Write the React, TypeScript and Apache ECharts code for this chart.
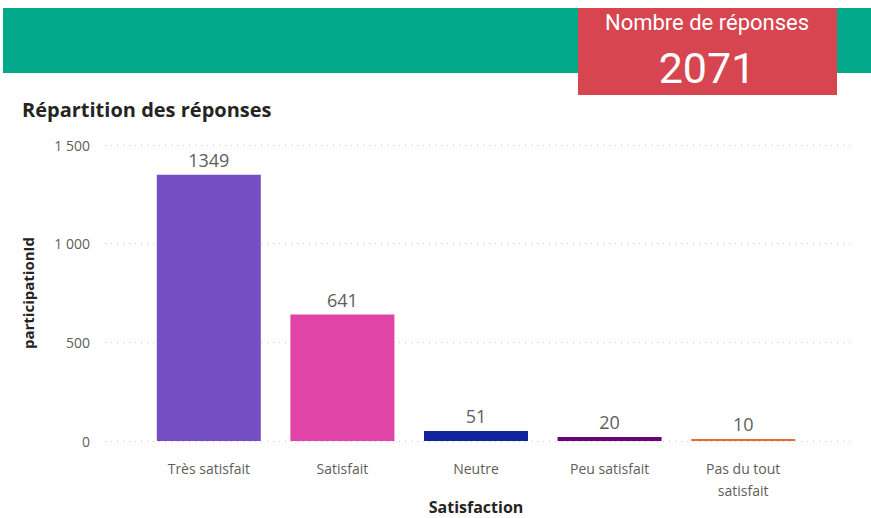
import React, { useEffect, useRef } from "react";
import * as echarts from "echarts";

const categories = ["Très satisfait", "Satisfait", "Neutre", "Peu satisfait", "Pas du tout satisfait"];
const values = [1349, 641, 51, 20, 10];
const barColors = ["#744EC2", "#E044A7", "#12239E", "#6B007B", "#E66C37"];
const totalResponses = 2071;

export default function App() {
  const ref = useRef<HTMLDivElement>(null);
  useEffect(() => {
    if (!ref.current) return;
    const chart = echarts.init(ref.current, null, { renderer: "svg" });
    const fmt = (v: number) => String(v).replace(/\B(?=(\d{3})+(?!\d))/g, " ");
    chart.setOption({
      animation: false,
      textStyle: { fontFamily: "Open Sans" },
      graphic: [
        { type: "rect", shape: { x: 3, y: 8, width: 868, height: 65 }, style: { fill: "#02A98B" } },
        { type: "rect", shape: { x: 578, y: 8, width: 259, height: 87 }, style: { fill: "#D64550" } },
        {
          type: "text", x: 707, y: 22,
          style: { text: "Nombre de réponses", fill: "#FFFFFF", font: "22px 'Roboto'", align: "center", verticalAlign: "middle" },
        },
        {
          type: "text", x: 707, y: 68,
          style: { text: String(totalResponses), fill: "#FFFFFF", font: "43px 'Roboto'", align: "center", verticalAlign: "middle" },
        },
        {
          type: "text", x: 22, y: 109,
          style: { text: "Répartition des réponses", fill: "#252423", font: "bold 20px 'Open Sans'", verticalAlign: "middle" },
        },
      ],
      grid: [
        { left: 105, right: 16, top: 145, bottom: 77, outerBoundsMode: "none", containLabel: false },
        { left: 142, right: 61, top: 145, bottom: 77, outerBoundsMode: "none", containLabel: false },
      ],
      xAxis: [
        { type: "value", gridIndex: 0, show: false, min: 0, max: 1 },
        {
          type: "category", gridIndex: 1, data: categories,
          axisLine: { show: false }, axisTick: { show: false },
          axisLabel: {
            color: "#605E5C", fontSize: 14, margin: 16, lineHeight: 22,
            formatter: (v: string) => (v === "Pas du tout satisfait" ? "Pas du tout\nsatisfait" : v),
          },
          name: "Satisfaction", nameLocation: "middle", nameGap: 58, nameMoveOverlap: false,
          nameTextStyle: { color: "#252423", fontSize: 16, fontWeight: "bold" },
        },
      ],
      yAxis: [
        {
          type: "value", gridIndex: 0, min: 0, max: 1500, interval: 500,
          axisLine: { show: false }, axisTick: { show: false },
          axisLabel: { color: "#605E5C", fontSize: 14, margin: 15, formatter: (v: number) => fmt(v) },
          splitLine: { lineStyle: { color: "#C8C6C4", type: [1, 5], width: 1 } },
          name: "participationId", nameLocation: "middle", nameGap: 70, nameMoveOverlap: false,
          nameTextStyle: { color: "#252423", fontSize: 15, fontWeight: "bold" },
        },
        { type: "value", gridIndex: 1, min: 0, max: 1500, interval: 500, show: false },
      ],
      series: [
        {
          type: "bar", xAxisIndex: 1, yAxisIndex: 1, barWidth: 104,
          data: values.map((v, i) => ({ value: v, itemStyle: { color: barColors[i] } })),
          label: { show: true, position: "top", distance: 6, color: "#605E5C", fontSize: 18 },
        },
      ],
    });
    return () => chart.dispose();
  }, []);
  return <div ref={ref} style={{ position: "absolute", left: 0, top: 0, width: 871, height: 518, background: "#fff" }} />;
}
